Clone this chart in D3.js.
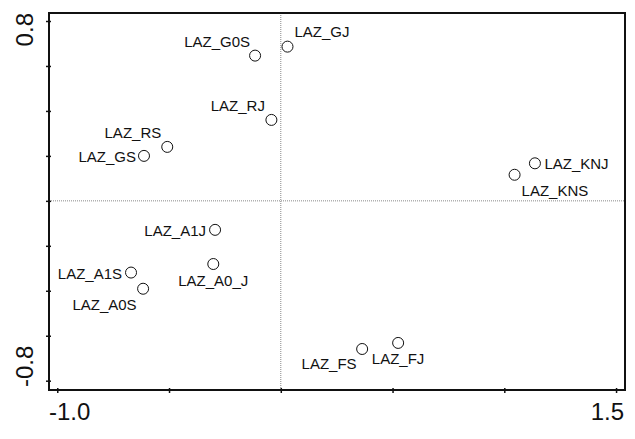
<!DOCTYPE html>
<html>
<head>
<meta charset="utf-8">
<script src="https://cdn.jsdelivr.net/npm/d3@7/dist/d3.min.js"></script>
<style>
  html, body { margin: 0; padding: 0; background: #fff; }
  svg { display: block; font-family: Arial, "Liberation Sans", sans-serif; }
</style>
</head>
<body>
<svg id="chart" width="635" height="439"></svg>
<script>
// Ordination scores (axis 1, axis 2) for each sample
const labels = ["LAZ_G0S", "LAZ_GJ", "LAZ_RJ", "LAZ_RS", "LAZ_GS", "LAZ_KNJ", "LAZ_KNS",
                "LAZ_A1J", "LAZ_A0_J", "LAZ_A1S", "LAZ_A0S", "LAZ_FS", "LAZ_FJ"];
const axis1 = [-0.115, 0.030, -0.042, -0.508, -0.612, 1.137, 1.046,
               -0.294, -0.302, -0.670, -0.616, 0.364, 0.525];
const axis2 = [0.646, 0.686, 0.360, 0.240, 0.200, 0.167, 0.116,
               -0.129, -0.281, -0.319, -0.391, -0.659, -0.632];

// Tick positions and the ones that carry a label
const xTicks = [-1.0, -0.5, 0, 0.5, 1.0, 1.5];
const yTicks = [-0.8, -0.6, -0.4, -0.2, 0, 0.2, 0.4, 0.6, 0.8];
const xTickLabels = ["-1.0", "1.5"];
const yTickLabels = ["-0.8", "0.8"];

// Label placement around each marker: [dx, dy, anchor]
const labelPlacement = [
  [-5, -9, "end"], [7, -10, "start"], [-6.5, -9, "end"], [-6, -8.5, "end"],
  [-8, 6.5, "end"], [9.5, 6, "start"], [7, 21.5, "start"], [-9, 6.5, "end"],
  [0, 21.5, "middle"], [-9, 6.5, "end"], [-6.5, 21.5, "end"], [-5.5, 20, "end"],
  [0, 21.5, "middle"]
];

const W = 635, H = 439;
const m = { left: 49, top: 13, right: 10, bottom: 49 };
const svg = d3.select("#chart");

const x = d3.scaleLinear().domain([-1.037, 1.540]).range([m.left, W - m.right]);
const y = d3.scaleLinear().domain([-0.8414, 0.8356]).range([H - m.bottom, m.top]);

const x0 = m.left, x1 = W - m.right, y0 = m.top, y1 = H - m.bottom;

// Dotted reference lines through the origin
svg.append("line")
  .attr("x1", x(0)).attr("x2", x(0)).attr("y1", y0).attr("y2", y1)
  .attr("stroke", "#888").attr("stroke-width", 1).attr("stroke-dasharray", "1,1");
svg.append("line")
  .attr("x1", x0).attr("x2", x1).attr("y1", y(0)).attr("y2", y(0))
  .attr("stroke", "#888").attr("stroke-width", 1).attr("stroke-dasharray", "1,1");

// Frame
svg.append("rect")
  .attr("x", x0).attr("y", y0).attr("width", x1 - x0).attr("height", y1 - y0)
  .attr("fill", "none").attr("stroke", "#111").attr("stroke-width", 2);

// Axes (ticks straddle the frame)
const gx = svg.append("g").attr("transform", `translate(0,${y1})`)
  .call(d3.axisBottom(x).tickValues(xTicks).tickSize(0).tickFormat(""));
gx.select(".domain").remove();
gx.selectAll(".tick line").attr("y1", -2).attr("y2", 3).attr("stroke", "#111").attr("stroke-width", 1.5);

const gy = svg.append("g").attr("transform", `translate(${x0},0)`)
  .call(d3.axisLeft(y).tickValues(yTicks).tickSize(0).tickFormat(""));
gy.select(".domain").remove();
gy.selectAll(".tick line").attr("x1", -3).attr("x2", 2).attr("stroke", "#111").attr("stroke-width", 1.5);

// Axis end labels
svg.append("text").attr("x", x0).attr("y", 420).attr("text-anchor", "start")
  .attr("font-size", 24).attr("fill", "#111").text(xTickLabels[0]);
svg.append("text").attr("x", x1 - 1).attr("y", 420).attr("text-anchor", "end")
  .attr("font-size", 24).attr("fill", "#111").text(xTickLabels[1]);
svg.append("text").attr("transform", `translate(33,${y1 - 3}) rotate(-90)`).attr("text-anchor", "start")
  .attr("font-size", 24).attr("fill", "#111").text(yTickLabels[0]);
svg.append("text").attr("transform", `translate(33,${y0}) rotate(-90)`).attr("text-anchor", "end")
  .attr("font-size", 24).attr("fill", "#111").text(yTickLabels[1]);

// Sample markers and names
const pts = labels.map((name, i) => ({ name, a: axis1[i], b: axis2[i], p: labelPlacement[i] }));

svg.append("g").selectAll("circle").data(pts).join("circle")
  .attr("cx", d => x(d.a)).attr("cy", d => y(d.b)).attr("r", 5.5)
  .attr("fill", "#fff").attr("stroke", "#111").attr("stroke-width", 1);

svg.append("g").selectAll("text").data(pts).join("text")
  .attr("x", d => x(d.a) + d.p[0]).attr("y", d => y(d.b) + d.p[1])
  .attr("text-anchor", d => d.p[2])
  .attr("font-size", 15).attr("fill", "#111")
  .text(d => d.name);
</script>
</body>
</html>
